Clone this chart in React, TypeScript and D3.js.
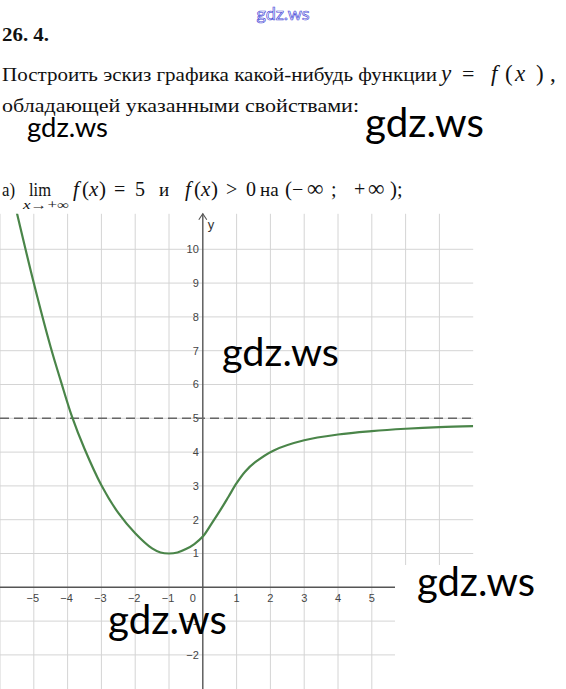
import React from "react";
import * as d3 from "d3";

// ---- data ----
const xTickValues = [-5, -4, -3, -2, -1, 0, 1, 2, 3, 4, 5, 6, 7];
const yTickValues = [-2, -1, 1, 2, 3, 4, 5, 6, 7, 8, 9, 10];
const gridX = [-6, -5, -4, -3, -2, -1, 1, 2, 3, 4, 5, 6, 7];
const gridY = [-2, -1, 1, 2, 3, 4, 5, 6, 7, 8, 9, 10];
const asymptote = 5;
const curveX = [-5.6, -5, -4.5, -4.2, -3.87, -3.5, -3, -2.5, -2, -1.5, -1.25, -1, -0.75, -0.5, -0.25, 0, 0.27, 0.56, 0.76, 1, 1.25, 1.55, 2.1, 3, 4, 5, 6, 7, 8];
const curveY = [11.5, 9.0, 7.1, 6.1, 5.05, 4.1, 3.02, 2.2, 1.6, 1.15, 1.03, 1.0, 1.03, 1.13, 1.28, 1.5, 1.9, 2.35, 2.68, 3.08, 3.42, 3.7, 4.05, 4.35, 4.52, 4.62, 4.69, 4.74, 4.77];

const W = 566;
const H = 689;

const minus = (v: number) => (v < 0 ? "\u2212" + Math.abs(v) : String(v));

// glyph runs: [text, x, italic, size]
type G = [string, number, boolean, number];
const mathLine1: G[] = [["y", 441, true, 23], ["=", 462, false, 22], ["f", 491, true, 23], ["(", 505, false, 23], ["x", 515, true, 23], [")", 536, false, 23], [",", 550, false, 23]];
const mathA: G[] = [
  ["f", 73, true, 21], ["(", 82, false, 21], ["x", 89, true, 21], [")", 99, false, 21], ["=", 114, false, 20], ["5", 135, false, 20], ["и", 159, false, 19],
  ["f", 185, true, 21], ["(", 194, false, 21], ["x", 201, true, 21], [")", 211, false, 21], [">", 226, false, 20], ["0", 246, false, 20], ["на", 260, false, 19],
  ["(", 285, false, 21], ["−", 292, false, 20], ["∞", 307, false, 23], [";", 331, false, 20], ["+", 354, false, 20], ["∞", 368, false, 23], [")", 390, false, 21], [";", 397, false, 20],
];

export default function App() {
  const x = d3.scaleLinear().domain([-6, 8]).range([0, 473.2]);
  const y = d3.scaleLinear().domain([-3, 11.05]).range([688.7, 213.8]);
  const x0 = x(0);
  const y0 = y(0);
  const top = y(11.05);
  const right = x(8);

  const pts: [number, number][] = curveX.map((v, i) => [v, curveY[i]]);
  const line = d3
    .line<[number, number]>()
    .x((d) => x(d[0]))
    .y((d) => y(d[1]))
    .curve(d3.curveCatmullRom.alpha(0.5));

  const serif = "'Liberation Serif', 'DejaVu Serif', serif";
  const sans = "'Liberation Sans', Arial, sans-serif";
  const wm = "Lato, 'Open Sans', sans-serif";
  const ink = "#111";

  return (
    <svg
      width={W}
      height={H}
      style={{ position: "absolute", left: 0, top: 0, background: "#fff" }}
    >
      <rect x={0} y={0} width={W} height={H} fill="#fff" />
      {/* header */}
      <text x={283} y={20} textAnchor="middle" fontFamily={wm} fontSize={18} fill="#fff" stroke="#4a4ad8" strokeWidth={0.7}>
        gdz.ws
      </text>
      <text x={2} y={41} fontFamily={serif} fontWeight="bold" fontSize={19} textLength={47} lengthAdjust="spacingAndGlyphs" fill={ink}>
        26. 4.
      </text>
      <text x={2} y={81} fontFamily={serif} fontSize={19} textLength={435} lengthAdjust="spacingAndGlyphs" fill={ink}>
        Построить эскиз графика какой-нибудь функции
      </text>
      <g fontFamily={serif} fill={ink}>
        {mathLine1.map(([t, px, it, fs], i) => (
          <text key={"m1" + i} x={px} y={81} fontSize={fs} fontStyle={it ? "italic" : "normal"}>{t}</text>
        ))}
      </g>
      <text x={2} y={112} fontFamily={serif} fontSize={19} textLength={357} lengthAdjust="spacingAndGlyphs" fill={ink}>
        обладающей указанными свойствами:
      </text>
      <text x={27} y={137} fontFamily={wm} fontSize={27} textLength={81} lengthAdjust="spacingAndGlyphs" fill="#000">
        gdz.ws
      </text>
      <text x={365} y={137} fontFamily={wm} fontSize={40} textLength={119} lengthAdjust="spacingAndGlyphs" fill="#000">
        gdz.ws
      </text>
      {/* line a */}
      <g fontFamily={serif} fontSize={19} fill={ink}>
        <text x={2} y={196} textLength={13} lengthAdjust="spacingAndGlyphs">а)</text>
        <text x={29} y={196} textLength={22} lengthAdjust="spacingAndGlyphs">lim</text>
        <text x={23} y={209} fontSize={12} textLength={46} lengthAdjust="spacingAndGlyphs">
          <tspan fontStyle="italic">x</tspan>→+∞
        </text>
        {mathA.map(([t, px, it, fs], i) => (
          <text key={"ma" + i} x={px} y={196} fontSize={fs} fontStyle={it ? "italic" : "normal"}>{t}</text>
        ))}
      </g>

      {/* grid */}
      <g stroke="#d4d4d4" strokeWidth={1}>
        {gridX.map((v) => (
          <line key={"gx" + v} x1={x(v)} x2={x(v)} y1={top} y2={H} />
        ))}
        {gridY.map((v) => (
          <line key={"gy" + v} x1={0} x2={right} y1={y(v)} y2={y(v)} />
        ))}
      </g>
      {/* axes */}
      <g stroke="#555" strokeWidth={1.4} fill="none">
        <line x1={0} x2={right} y1={y0} y2={y0} />
        <line x1={x0} x2={x0} y1={top} y2={H} />
        <path d={`M${x0 - 4},${top + 6} L${x0},${top} L${x0 + 4},${top + 6}`} strokeWidth={1.1} />
      </g>
      <text x={x0 + 5} y={top + 15} fontFamily={sans} fontSize={13} fill="#333">y</text>
      {/* tick labels */}
      <g fontFamily={sans} fontSize={11} fill="#444">
        {yTickValues.map((v) => (
          <text key={"yt" + v} x={x0 - 4} y={y(v)} dy="0.35em" textAnchor="end">
            {minus(v)}
          </text>
        ))}
        {xTickValues.map((v) =>
          v === 0 ? (
            <text key="xt0" x={x0 - 10} y={y0 + 15} textAnchor="middle">0</text>
          ) : (
            <text key={"xt" + v} x={x(v) + (v < 0 ? -1 : 0)} y={y0 + 15} textAnchor="middle">
              {minus(v)}
            </text>
          )
        )}
      </g>
      {/* asymptote */}
      <line x1={0} x2={right} y1={y(asymptote)} y2={y(asymptote)} stroke="#666" strokeWidth={1.6} strokeDasharray="9,5" />
      {/* curve */}
      <clipPath id="clip">
        <rect x={0} y={top} width={right} height={H - top} />
      </clipPath>
      <path d={line(pts) || ""} fill="none" stroke="#4a8549" strokeWidth={2.2} clipPath="url(#clip)" />

      {/* watermarks */}
      <text x={222} y={366} fontFamily={wm} fontSize={38} textLength={117} lengthAdjust="spacingAndGlyphs" fill="#000">gdz.ws</text>
      <rect x={395} y={565} width={W - 395} height={H - 565} fill="#fff" />
      <text x={417} y={596} fontFamily={wm} fontSize={40} textLength={118} lengthAdjust="spacingAndGlyphs" fill="#000">gdz.ws</text>
      <text x={108} y={634} fontFamily={wm} fontSize={40} textLength={119} lengthAdjust="spacingAndGlyphs" fill="#000">gdz.ws</text>
    </svg>
  );
}
